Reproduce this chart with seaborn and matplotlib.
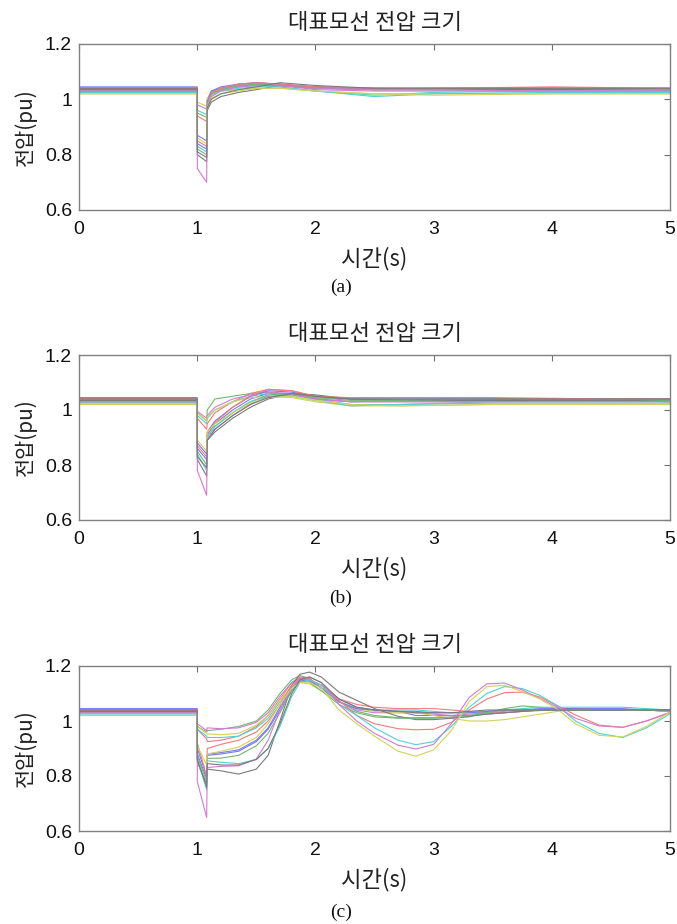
import matplotlib
matplotlib.use("Agg")
import matplotlib.pyplot as plt
import seaborn as sns
import pandas as pd

# ---------------- data ----------------
line_colors = ["#7878f0", "#70b870", "#f27a7a", "#4fd2d2", "#d27ad2", "#d2d25a", "#7a7a7a",
               "#7878f0", "#70b870", "#f27a7a", "#4fd2d2", "#d27ad2", "#d2d25a", "#7a7a7a"]

t_a = [0, 1.0, 1.001, 1.08, 1.085, 1.12, 1.2, 1.35, 1.5, 1.7, 2.0, 2.5, 3.0, 4.0, 5.0]
v_a = [
    [1.04, 1.04, 0.84, 0.82, 0.98, 1.02, 1.035, 1.045, 1.05, 1.05, 1.04, 1.035, 1.035, 1.035, 1.035],
    [1.035, 1.035, 0.95, 0.935, 1.0, 1.03, 1.04, 1.05, 1.055, 1.05, 1.04, 1.04, 1.035, 1.04, 1.035],
    [1.04, 1.04, 0.94, 0.92, 0.98, 1.02, 1.04, 1.055, 1.06, 1.055, 1.045, 1.04, 1.04, 1.04, 1.04],
    [1.03, 1.03, 0.96, 0.945, 0.99, 1.02, 1.035, 1.045, 1.05, 1.045, 1.03, 1.015, 1.025, 1.03, 1.03],
    [1.03, 1.03, 0.98, 0.965, 1.0, 1.025, 1.04, 1.05, 1.055, 1.05, 1.035, 1.03, 1.03, 1.03, 1.03],
    [1.02, 1.02, 0.99, 0.975, 1.0, 1.02, 1.03, 1.035, 1.04, 1.04, 1.03, 1.02, 1.02, 1.02, 1.02],
    [1.035, 1.035, 0.80, 0.775, 0.96, 0.99, 1.01, 1.025, 1.035, 1.05, 1.045, 1.035, 1.035, 1.035, 1.035],
    [1.045, 1.045, 0.87, 0.85, 0.99, 1.03, 1.045, 1.055, 1.06, 1.055, 1.04, 1.04, 1.04, 1.04, 1.04],
    [1.03, 1.03, 0.82, 0.80, 0.98, 1.02, 1.035, 1.05, 1.055, 1.05, 1.04, 1.035, 1.04, 1.04, 1.035],
    [1.04, 1.04, 0.85, 0.83, 0.98, 1.025, 1.04, 1.055, 1.06, 1.055, 1.045, 1.04, 1.04, 1.045, 1.04],
    [1.025, 1.025, 0.83, 0.81, 0.975, 1.015, 1.03, 1.04, 1.045, 1.045, 1.03, 1.01, 1.02, 1.025, 1.025],
    [1.03, 1.03, 0.75, 0.70, 0.97, 1.01, 1.03, 1.045, 1.05, 1.05, 1.04, 1.035, 1.035, 1.03, 1.03],
    [1.02, 1.02, 0.86, 0.84, 0.97, 1.005, 1.02, 1.03, 1.04, 1.04, 1.03, 1.02, 1.015, 1.02, 1.02],
    [1.04, 1.04, 0.81, 0.79, 0.97, 1.0, 1.02, 1.035, 1.045, 1.06, 1.05, 1.04, 1.04, 1.04, 1.04],
]

t_b = [0, 1.0, 1.001, 1.08, 1.085, 1.15, 1.3, 1.45, 1.6, 1.8, 2.0, 2.3, 2.7, 3.5, 4.5, 5.0]
v_b = [
    [1.04, 1.04, 0.86, 0.82, 0.91, 0.95, 1.00, 1.04, 1.06, 1.06, 1.04, 1.03, 1.035, 1.035, 1.035, 1.035],
    [1.035, 1.035, 0.99, 0.96, 1.0, 1.04, 1.05, 1.06, 1.065, 1.055, 1.045, 1.04, 1.035, 1.04, 1.04, 1.035],
    [1.04, 1.04, 0.97, 0.93, 0.95, 0.99, 1.03, 1.06, 1.075, 1.07, 1.05, 1.04, 1.04, 1.04, 1.04, 1.04],
    [1.03, 1.03, 0.98, 0.95, 0.97, 1.0, 1.03, 1.05, 1.06, 1.055, 1.04, 1.02, 1.02, 1.03, 1.03, 1.03],
    [1.03, 1.03, 0.995, 0.97, 0.98, 1.01, 1.04, 1.055, 1.065, 1.06, 1.04, 1.03, 1.03, 1.03, 1.035, 1.03],
    [1.02, 1.02, 0.99, 0.96, 0.975, 1.0, 1.03, 1.045, 1.05, 1.045, 1.03, 1.015, 1.015, 1.02, 1.02, 1.02],
    [1.035, 1.035, 0.82, 0.76, 0.89, 0.92, 0.97, 1.01, 1.04, 1.06, 1.055, 1.04, 1.035, 1.035, 1.035, 1.035],
    [1.045, 1.045, 0.88, 0.84, 0.92, 0.96, 1.01, 1.05, 1.07, 1.065, 1.05, 1.04, 1.04, 1.04, 1.04, 1.04],
    [1.03, 1.03, 0.85, 0.80, 0.90, 0.94, 0.99, 1.03, 1.055, 1.06, 1.045, 1.035, 1.035, 1.04, 1.04, 1.035],
    [1.04, 1.04, 0.87, 0.83, 0.91, 0.955, 1.01, 1.05, 1.075, 1.07, 1.05, 1.045, 1.045, 1.045, 1.04, 1.04],
    [1.025, 1.025, 0.84, 0.78, 0.90, 0.94, 0.99, 1.03, 1.05, 1.05, 1.035, 1.015, 1.02, 1.025, 1.025, 1.025],
    [1.03, 1.03, 0.78, 0.69, 0.89, 0.93, 0.98, 1.02, 1.05, 1.055, 1.04, 1.03, 1.03, 1.03, 1.03, 1.03],
    [1.02, 1.02, 0.89, 0.85, 0.92, 0.95, 0.99, 1.025, 1.045, 1.05, 1.035, 1.02, 1.015, 1.02, 1.02, 1.02],
    [1.04, 1.04, 0.83, 0.79, 0.89, 0.93, 0.98, 1.02, 1.045, 1.06, 1.05, 1.04, 1.04, 1.04, 1.04, 1.04],
]

t_c = [0, 1.0, 1.001, 1.08, 1.085, 1.2, 1.35, 1.5, 1.6, 1.7, 1.8, 1.87, 1.95, 2.05, 2.2, 2.35,
       2.5, 2.7, 2.85, 3.0, 3.15, 3.3, 3.45, 3.6, 3.75, 3.9, 4.05, 4.2, 4.4, 4.6, 4.8, 5.0]
v_c = [
    [1.04, 1.04, 0.90, 0.80, 0.875, 0.88, 0.89, 0.925, 0.97, 1.04, 1.11, 1.145, 1.15, 1.13, 1.08, 1.05,
     1.04, 1.035, 1.02, 1.02, 1.02, 1.02, 1.025, 1.03, 1.035, 1.04, 1.04, 1.045, 1.045, 1.045, 1.04, 1.04],
    [1.035, 1.035, 0.98, 0.96, 0.965, 0.97, 0.98, 1.0, 1.04, 1.10, 1.15, 1.165, 1.155, 1.12, 1.07, 1.035,
     1.02, 1.012, 1.012, 1.012, 1.012, 1.015, 1.03, 1.045, 1.055, 1.05, 1.045, 1.045, 1.04, 1.04, 1.04, 1.035],
    [1.04, 1.04, 0.97, 0.935, 0.925, 0.93, 0.945, 0.98, 1.02, 1.08, 1.14, 1.16, 1.155, 1.12, 1.08, 1.06,
     1.05, 1.045, 1.045, 1.045, 1.04, 1.035, 1.03, 1.03, 1.035, 1.04, 1.045, 1.045, 1.04, 1.04, 1.04, 1.035],
    [1.03, 1.03, 0.97, 0.945, 0.94, 0.94, 0.945, 0.975, 1.01, 1.07, 1.13, 1.155, 1.15, 1.12, 1.07, 1.045,
     1.04, 1.04, 1.04, 1.035, 1.03, 1.03, 1.035, 1.04, 1.045, 1.05, 1.05, 1.05, 1.05, 1.05, 1.045, 1.04],
    [1.03, 1.03, 0.99, 0.965, 0.975, 0.972, 0.975, 0.995, 1.03, 1.09, 1.14, 1.155, 1.15, 1.12, 1.07, 1.04,
     1.03, 1.03, 1.03, 1.025, 1.02, 1.025, 1.03, 1.035, 1.04, 1.04, 1.04, 1.04, 1.04, 1.04, 1.04, 1.035],
    [1.02, 1.02, 0.98, 0.955, 0.953, 0.95, 0.955, 0.985, 1.02, 1.075, 1.125, 1.14, 1.135, 1.11, 1.07, 1.045,
     1.035, 1.03, 1.03, 1.02, 1.01, 1.0, 1.0, 1.005, 1.015, 1.025, 1.035, 1.04, 1.04, 1.04, 1.04, 1.035],
    [1.035, 1.035, 0.85, 0.77, 0.825, 0.819, 0.807, 0.825, 0.875, 1.0, 1.13, 1.17, 1.178, 1.16, 1.105, 1.075,
     1.045, 1.017, 1.005, 1.005, 1.01, 1.017, 1.025, 1.03, 1.035, 1.038, 1.04, 1.04, 1.04, 1.04, 1.04, 1.04],
    [1.045, 1.045, 0.88, 0.79, 0.88, 0.885, 0.895, 0.93, 0.975, 1.05, 1.12, 1.15, 1.145, 1.12, 1.07, 1.045,
     1.04, 1.035, 1.035, 1.03, 1.03, 1.03, 1.035, 1.04, 1.04, 1.045, 1.045, 1.045, 1.04, 1.04, 1.04, 1.04],
    [1.03, 1.03, 0.87, 0.78, 0.864, 0.865, 0.875, 0.91, 0.955, 1.03, 1.11, 1.145, 1.14, 1.11, 1.06, 1.03,
     1.015, 1.01, 1.01, 1.01, 1.015, 1.02, 1.03, 1.04, 1.04, 1.04, 1.04, 1.04, 1.04, 1.04, 1.04, 1.035],
    [1.04, 1.04, 0.92, 0.80, 0.90, 0.915, 0.93, 0.96, 1.0, 1.06, 1.13, 1.155, 1.15, 1.13, 1.075, 1.02,
     0.99, 0.972, 0.968, 0.97, 0.995, 1.04, 1.08, 1.103, 1.105, 1.087, 1.055, 1.022, 0.985, 0.977, 1.0, 1.03],
    [1.025, 1.025, 0.86, 0.75, 0.855, 0.85, 0.845, 0.86, 0.90, 0.98, 1.09, 1.14, 1.15, 1.13, 1.06, 1.02,
     0.975, 0.93, 0.914, 0.925, 0.98, 1.05, 1.10, 1.125, 1.118, 1.093, 1.055, 1.0, 0.955, 0.94, 0.975, 1.026],
    [1.03, 1.03, 0.78, 0.649, 0.831, 0.835, 0.837, 0.862, 0.93, 1.04, 1.12, 1.155, 1.16, 1.14, 1.06, 1.0,
     0.955, 0.912, 0.898, 0.915, 0.99, 1.085, 1.135, 1.138, 1.113, 1.081, 1.05, 1.01, 0.982, 0.977, 1.0, 1.032],
    [1.02, 1.02, 0.91, 0.84, 0.88, 0.89, 0.905, 0.94, 0.99, 1.06, 1.12, 1.14, 1.14, 1.12, 1.04, 0.99,
     0.945, 0.89, 0.872, 0.895, 0.965, 1.07, 1.125, 1.13, 1.107, 1.08, 1.042, 0.99, 0.948, 0.942, 0.98, 1.032],
    [1.04, 1.04, 0.86, 0.76, 0.845, 0.84, 0.84, 0.86, 0.90, 0.99, 1.10, 1.15, 1.16, 1.14, 1.08, 1.05,
     1.04, 1.035, 1.03, 1.03, 1.03, 1.035, 1.04, 1.04, 1.04, 1.04, 1.04, 1.04, 1.04, 1.04, 1.04, 1.04],
]

x_ticks = [0, 1, 2, 3, 4, 5]
y_ticks = [0.6, 0.8, 1.0, 1.2]
y_tick_labels = ["0.6", "0.8", "1", "1.2"]
title_text = "대표모선 전압 크기"
x_label = "시간(s)"
y_label = "전압(pu)"
panel_labels = ["(a)", "(b)", "(c)"]

# ---------------- style ----------------
sns.set_theme(style="white")
plt.rcParams["font.family"] = ["Liberation Sans", "Noto Sans CJK KR", "DejaVu Sans"]
kr_font = ["Noto Sans CJK KR", "DejaVu Sans"]

fig = plt.figure(figsize=(6.77, 9.24), dpi=100)
W, H = 677, 924
left_px, right_px = 79, 670
panels = [
    (t_a, v_a, 44, 210, 287),
    (t_b, v_b, 355, 520, 598),
    (t_c, v_c, 666, 831, 912),
]

for (tt, vals, top_px, bot_px, lab_px), plab in zip(panels, panel_labels):
    ax = fig.add_axes([left_px / W, 1 - bot_px / H, (right_px - left_px) / W, (bot_px - top_px) / H])
    rows = []
    for i, series in enumerate(vals):
        for t, v in zip(tt, series):
            rows.append({"t": t, "v": v, "bus": f"bus{i}"})
    df = pd.DataFrame(rows)
    sns.lineplot(data=df, x="t", y="v", hue="bus", palette=line_colors, estimator=None,
                 sort=False, linewidth=0.8, legend=False, ax=ax)
    ax.set_xlim(0, 5)
    ax.set_ylim(0.6, 1.2)
    ax.set_xticks(x_ticks)
    ax.set_xticklabels([str(x) for x in x_ticks])
    ax.set_yticks(y_ticks)
    ax.set_yticklabels(y_tick_labels)
    ax.tick_params(direction="in", top=True, right=True, length=4, width=0.8,
                   color="#707070", labelsize=14, labelcolor="#111111")
    ax.tick_params(axis="x", pad=8)
    ax.tick_params(axis="y", pad=5)
    for s in ax.spines.values():
        s.set_color("#808080")
        s.set_linewidth(1.0)
    ax.set_title(title_text, fontsize=16, family=kr_font, pad=11, color="#222222")
    ax.set_xlabel(x_label, fontsize=16, family=kr_font, labelpad=6, color="#222222")
    ax.set_ylabel(y_label, fontsize=15, family=kr_font, labelpad=6, color="#222222")
    fig.text(341 / W, 1 - lab_px / H, plab, ha="center", va="center",
             fontsize=14, family=["Liberation Serif", "DejaVu Serif"], color="#111111")

fig.savefig("out.png", dpi=100, facecolor="white")
